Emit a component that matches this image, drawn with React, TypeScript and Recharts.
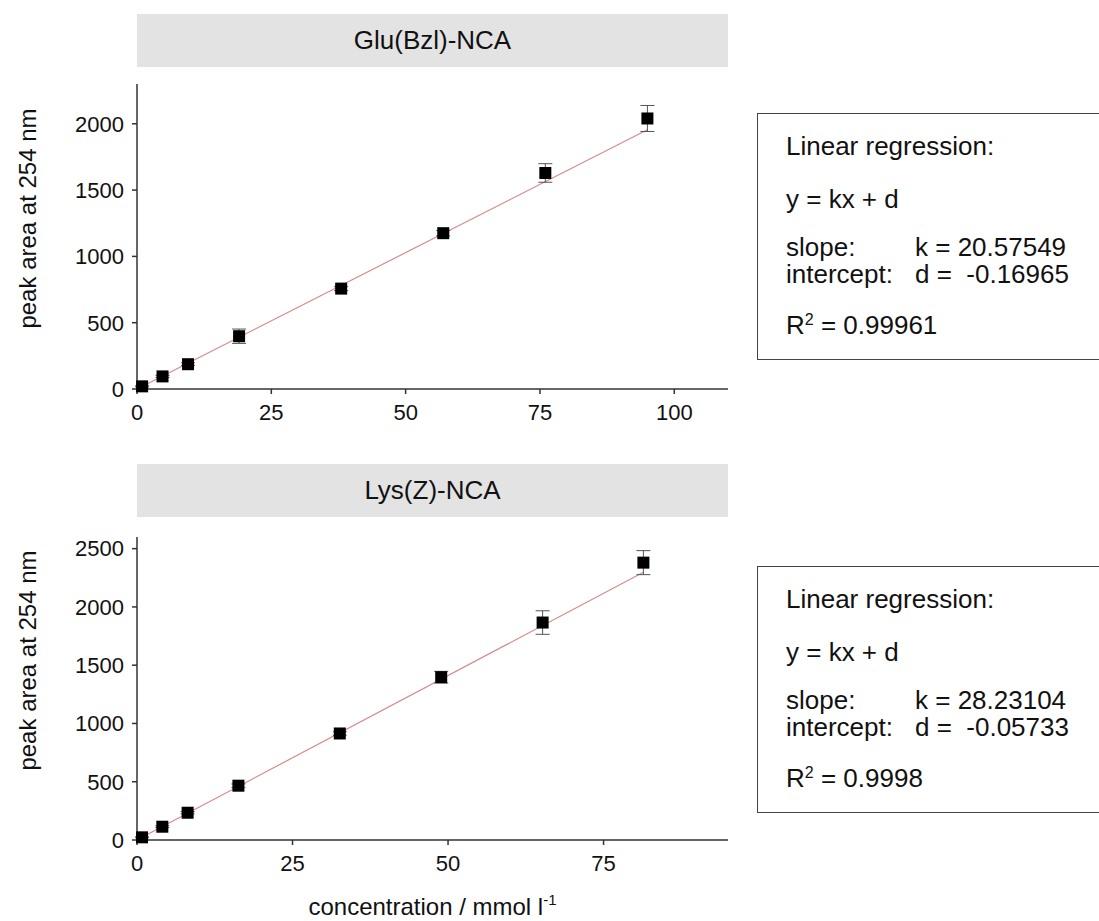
import React from 'react';
import { ComposedChart, Scatter, Line, XAxis, YAxis, ErrorBar } from 'recharts';

// Glu(Bzl)-NCA calibration
const gluConc = [0.95, 4.75, 9.5, 19, 38, 57, 76, 95];
const gluArea = [20, 95, 187, 398, 757, 1175, 1629, 2040];
const gluErr = [4, 8, 10, 54, 15, 20, 70, 98];
const gluSlope = 20.57549;
const gluIntercept = -0.16965;
const gluR2 = '0.99961';

// Lys(Z)-NCA calibration
const lysConc = [0.81, 4.07, 8.14, 16.3, 32.6, 48.9, 65.2, 81.4];
const lysArea = [23, 114, 234, 466, 914, 1397, 1866, 2380];
const lysErr = [4, 8, 10, 15, 15, 50, 101, 103];
const lysSlope = 28.23104;
const lysIntercept = -0.05733;
const lysR2 = '0.9998';

const gluXTicks = [0, 25, 50, 75, 100];
const gluXMinor = [12.5, 37.5, 62.5, 87.5];
const gluYTicks = [0, 500, 1000, 1500, 2000];
const gluYMinor = [250, 750, 1250, 1750, 2250];
const lysXTicks = [0, 25, 50, 75];
const lysXMinor = [12.5, 37.5, 62.5, 87.5];
const lysYTicks = [0, 500, 1000, 1500, 2000, 2500];
const lysYMinor = [250, 750, 1250, 1750, 2250];

const FONT = '"Liberation Sans", Arial, sans-serif';
const AXIS = '#333';

const toPoints = (xs: number[], ys: number[], es: number[]) =>
  xs.map((x, i) => ({ x, y: ys[i], err: es[i] }));
const toFit = (xs: number[], k: number, d: number) =>
  [xs[0], xs[xs.length - 1]].map((x) => ({ x, y: k * x + d }));

const Square = (props: any) => (
  <rect x={props.cx - 6} y={props.cy - 6} width={12} height={12} fill="#000" />
);

const YTitle = ({ viewBox, shift }: any) => {
  const cx = 27;
  const cy = viewBox.y + viewBox.height / 2 - shift;
  return (
    <text x={cx} y={cy} transform={`rotate(-90 ${cx} ${cy})`} textAnchor="middle"
      dominantBaseline="central" fontSize={24} fontFamily={FONT} fill="#111">
      peak area at 254 nm
    </text>
  );
};

const XTitle = ({ viewBox }: any) => (
  <text x={viewBox.x + viewBox.width / 2} y={viewBox.y + 75} textAnchor="middle"
    fontSize={24} fontFamily={FONT} fill="#111">
    concentration / mmol l<tspan dy={-10} fontSize={15}>-1</tspan>
  </text>
);

interface PanelProps {
  top: number;
  height: number;
  marginTop: number;
  xAxisHeight: number;
  xDomain: number[];
  yDomain: number[];
  xTicks: number[];
  xMinor: number[];
  yTicks: number[];
  yMinor: number[];
  points: { x: number; y: number; err: number }[];
  fit: { x: number; y: number }[];
  titleShift: number;
  showXTitle?: boolean;
}

const tickStyle = { fontSize: 22, fontFamily: FONT, fill: '#111' };

const Panel = (p: PanelProps) => (
  <div style={{ position: 'absolute', left: 0, top: p.top }}>
    <ComposedChart width={760} height={p.height}
      margin={{ top: p.marginTop, right: 32, left: 0, bottom: 0 }}>
      <XAxis xAxisId="minor" type="number" dataKey="x" domain={p.xDomain} ticks={p.xMinor}
        height={0} axisLine={false} tickSize={3} tickFormatter={() => ''}
        tickLine={{ stroke: AXIS, strokeWidth: 1.5 }} />
      <XAxis xAxisId="main" type="number" dataKey="x" domain={p.xDomain} ticks={p.xTicks}
        height={p.xAxisHeight} tickSize={5} tickMargin={10} tick={tickStyle}
        axisLine={{ stroke: AXIS, strokeWidth: 1.5 }} tickLine={{ stroke: AXIS, strokeWidth: 1.5 }}
        label={p.showXTitle ? <XTitle /> : undefined} />
      <YAxis yAxisId="minor" type="number" dataKey="y" domain={p.yDomain} ticks={p.yMinor}
        width={0} axisLine={false} tickSize={3} tickFormatter={() => ''}
        tickLine={{ stroke: AXIS, strokeWidth: 1.5 }} />
      <YAxis yAxisId="main" type="number" dataKey="y" domain={p.yDomain} ticks={p.yTicks}
        width={137} tickSize={5} tickMargin={8} tick={tickStyle}
        axisLine={{ stroke: AXIS, strokeWidth: 1.5 }} tickLine={{ stroke: AXIS, strokeWidth: 1.5 }}
        label={<YTitle shift={p.titleShift} />} />
      <Line xAxisId="main" yAxisId="main" data={p.fit} dataKey="y" type="linear"
        stroke="#d48c8c" strokeWidth={1.2} dot={false} activeDot={false} isAnimationActive={false} />
      <Scatter xAxisId="main" yAxisId="main" data={p.points} dataKey="y" shape={<Square />}
        isAnimationActive={false}>
        <ErrorBar dataKey="err" direction="y" width={7} stroke="#555" strokeWidth={1} />
      </Scatter>
    </ComposedChart>
  </div>
);

const Band = ({ top, text }: { top: number; text: string }) => (
  <div style={{
    position: 'absolute', left: 137, top, width: 591, height: 53, background: '#e3e3e3',
    display: 'flex', alignItems: 'center', justifyContent: 'center',
    fontFamily: FONT, fontSize: 26, color: '#111',
  }}>
    {text}
  </div>
);

const StatsBox = ({ top, k, d, r2 }: { top: number; k: number; d: number; r2: string }) => {
  const block = (t: number, content: React.ReactNode) => (
    <div style={{
      position: 'absolute', top: t, left: 28, lineHeight: '27px', whiteSpace: 'pre',
      tabSize: '129px' as any,
    }}>
      {content}
    </div>
  );
  return (
    <div style={{
      position: 'absolute', left: 757, top, width: 360, height: 247, boxSizing: 'border-box',
      border: '1.5px solid #444', fontFamily: FONT, fontSize: 26, color: '#111',
    }}>
      {block(19, 'Linear regression:')}
      {block(72, 'y = kx + d')}
      {block(120, `slope:\tk = ${k}\nintercept:\td =  ${d}`)}
      {block(198, <>R<sup style={{ fontSize: 16, verticalAlign: 'top', lineHeight: '16px' }}>2</sup> = {r2}</>)}
    </div>
  );
};

export default function App() {
  return (
    <div style={{
      position: 'absolute', left: 0, top: 0, width: 1099, height: 921,
      overflow: 'hidden', background: '#fff',
    }}>
      <Band top={14} text="Glu(Bzl)-NCA" />
      <Panel top={0} height={430} marginTop={84} xAxisHeight={41}
        xDomain={[0, 110]} yDomain={[0, 2300]}
        xTicks={gluXTicks} xMinor={gluXMinor} yTicks={gluYTicks} yMinor={gluYMinor}
        points={toPoints(gluConc, gluArea, gluErr)} fit={toFit(gluConc, gluSlope, gluIntercept)}
        titleShift={18} />
      <StatsBox top={113} k={gluSlope} d={gluIntercept} r2={gluR2} />

      <Band top={464} text="Lys(Z)-NCA" />
      <Panel top={440} height={481} marginTop={97} xAxisHeight={81}
        xDomain={[0, 95]} yDomain={[0, 2600]}
        xTicks={lysXTicks} xMinor={lysXMinor} yTicks={lysYTicks} yMinor={lysYMinor}
        points={toPoints(lysConc, lysArea, lysErr)} fit={toFit(lysConc, lysSlope, lysIntercept)}
        titleShift={28} showXTitle />
      <StatsBox top={566} k={lysSlope} d={lysIntercept} r2={lysR2} />
    </div>
  );
}
